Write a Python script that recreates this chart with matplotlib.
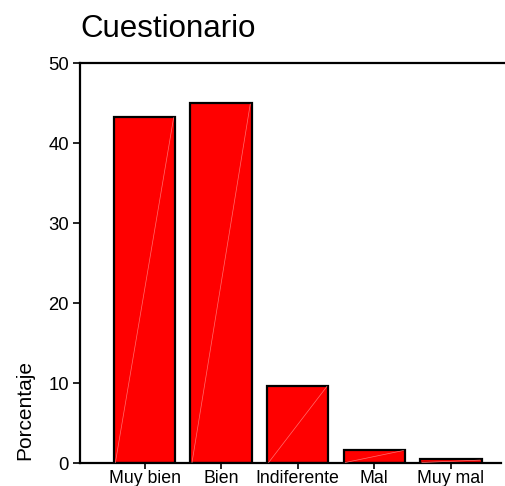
import matplotlib
matplotlib.use("Agg")
import matplotlib.pyplot as plt
import numpy as np

categories = ["Muy bien", "Bien", "Indiferente", "Mal", "Muy mal"]
values = [43.3, 45.0, 9.7, 1.7, 0.5]
yticks = [0, 10, 20, 30, 40, 50]

plt.rcParams['font.family'] = ['Liberation Sans', 'DejaVu Sans']

W, H = 506, 486
fig = plt.figure(figsize=(W / 100, H / 100), dpi=100)
ax = fig.add_axes([80 / W, (H - 463.3) / H, (W - 80) / W, 400 / H])

x = np.arange(len(categories))
width = 0.8
bars = ax.bar(x, values, width=width, color="#ff0000", edgecolor="black", linewidth=1.6, zorder=2)
# faint diagonal highlight inside each bar
for b in bars:
    x0 = b.get_x()
    x1 = x0 + b.get_width()
    h = b.get_height()
    ax.plot([x0 + 0.02, x1 - 0.02], [0.1, h - 0.1], color="#ff7070", lw=0.5, zorder=3)

spacing = 76.6
xmin = -(144.5 - 80) / spacing
xright = (501 - 451) / spacing + 4
xmax = (506 - 451) / spacing + 4
ax.set_xlim(xmin, xmax)
ax.set_ylim(0, 50)

ax.spines['right'].set_visible(False)
ax.spines['bottom'].set_bounds(xmin, xright)
for s in ['left', 'bottom', 'top']:
    ax.spines[s].set_linewidth(1.6)

ax.set_yticks(yticks)
ax.set_yticklabels([str(t) for t in yticks])
ax.set_xticks(x)
ax.set_xticklabels(categories)
ax.tick_params(axis='y', direction='out', length=5, width=1.2, labelsize=13.3, pad=3)
ax.tick_params(axis='x', direction='out', length=4.5, width=1.2, labelsize=12.8, pad=0.5)

fig.text(80 / W, (H - 37) / H, "Cuestionario", fontsize=22.5, ha='left', va='baseline')
fig.text(15 / W, (H - 460) / H, "Porcentaje", fontsize=15, rotation=90, ha='left', va='bottom')

fig.savefig("out.png", dpi=100)
